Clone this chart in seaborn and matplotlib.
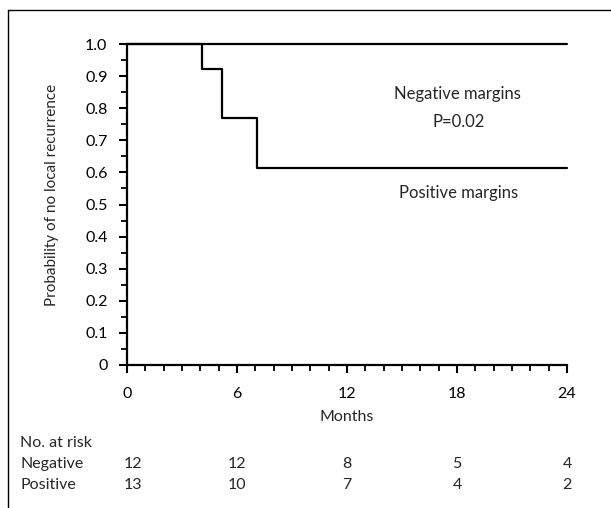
import numpy as np
import pandas as pd
import matplotlib
matplotlib.use("Agg")
import matplotlib.pyplot as plt
from matplotlib.lines import Line2D
from matplotlib.ticker import MultipleLocator
import seaborn as sns

# Kaplan-Meier step points
neg_months = [0, 24]
neg_surv = [1.0, 1.0]
pos_months = [0, 4.1, 5.2, 7.1, 24]
pos_surv = [1.0, 0.923, 0.769, 0.615, 0.615]

# numbers at risk
risk_months = [0, 6, 12, 18, 24]
risk_negative = [12, 12, 8, 5, 4]
risk_positive = [13, 10, 7, 4, 2]

df = pd.concat([
    pd.DataFrame({"month": neg_months, "surv": neg_surv, "group": "Negative"}),
    pd.DataFrame({"month": pos_months, "surv": pos_surv, "group": "Positive"}),
])

sns.set_theme(style="ticks")
plt.rcParams["font.family"] = ["Lato", "DejaVu Sans"]
fs = 11.5

fig = plt.figure(figsize=(6.11, 5.08), dpi=100)
ax = fig.add_axes([127 / 611, 1 - 365 / 508, 440 / 611, 321 / 508])

sns.lineplot(data=df, x="month", y="surv", hue="group", units="group",
             estimator=None, drawstyle="steps-post",
             palette=["black", "black"], linewidth=1.6, legend=False,
             ax=ax, clip_on=False)

ax.set_xlim(0, 24)
ax.set_ylim(0, 1)
ax.xaxis.set_major_locator(MultipleLocator(6))
ax.xaxis.set_minor_locator(MultipleLocator(1))
ax.yaxis.set_minor_locator(MultipleLocator(0.05))
ax.set_yticks(np.arange(0, 1.01, 0.1))
ax.set_yticklabels(["0"] + [f"{v:.1f}" for v in np.arange(0.1, 1.01, 0.1)])
ax.tick_params(axis="both", which="major", length=6, width=1.5, labelsize=fs,
               colors="black")
ax.tick_params(axis="x", which="major", pad=10)
ax.tick_params(axis="y", which="major", pad=8)
ax.tick_params(axis="both", which="minor", length=4, width=1.3, colors="black")
for s in ["top", "right"]:
    ax.spines[s].set_visible(False)
for s in ["left", "bottom"]:
    ax.spines[s].set_linewidth(1.6)
    ax.spines[s].set_color("black")

ax.set_xlabel("Months", fontsize=fs, labelpad=6)
ax.set_ylabel("Probability of no local recurrence", fontsize=11, labelpad=18)
ax.yaxis.set_label_coords(-0.155, 0.53)

ax.text(18, 0.843, "Negative margins", ha="center", va="center", fontsize=12)
ax.text(18.1, 0.757, "P=0.02", ha="center", va="center", fontsize=12)
ax.text(18.1, 0.537, "Positive margins", ha="center", va="center", fontsize=12)

# numbers at risk table below the axis
fig.text(20 / 611, 1 - 443 / 508, "No. at risk", ha="left", va="center", fontsize=fs)
fig.text(20 / 611, 1 - 464 / 508, "Negative", ha="left", va="center", fontsize=fs)
fig.text(20 / 611, 1 - 485 / 508, "Positive", ha="left", va="center", fontsize=fs)
trans = ax.get_xaxis_transform()
pos = ax.get_position()
y_neg = (1 - 464 / 508 - pos.y0) / pos.height
y_pos = (1 - 485 / 508 - pos.y0) / pos.height
for m, n, p in zip(risk_months, risk_negative, risk_positive):
    xm = m + 0.35 if m == 0 else m
    ax.text(xm, y_neg, str(n), transform=trans, ha="center", va="center",
            fontsize=fs, clip_on=False)
    ax.text(xm, y_pos, str(p), transform=trans, ha="center", va="center",
            fontsize=fs, clip_on=False)

# page frame (left and top edges)
fig.add_artist(Line2D([8 / 611, 8 / 611], [0, 1 - 10 / 508], color="black", lw=1.0))
fig.add_artist(Line2D([8 / 611, 1], [1 - 10 / 508, 1 - 10 / 508], color="black", lw=1.0))

fig.savefig("out.png", dpi=100)
